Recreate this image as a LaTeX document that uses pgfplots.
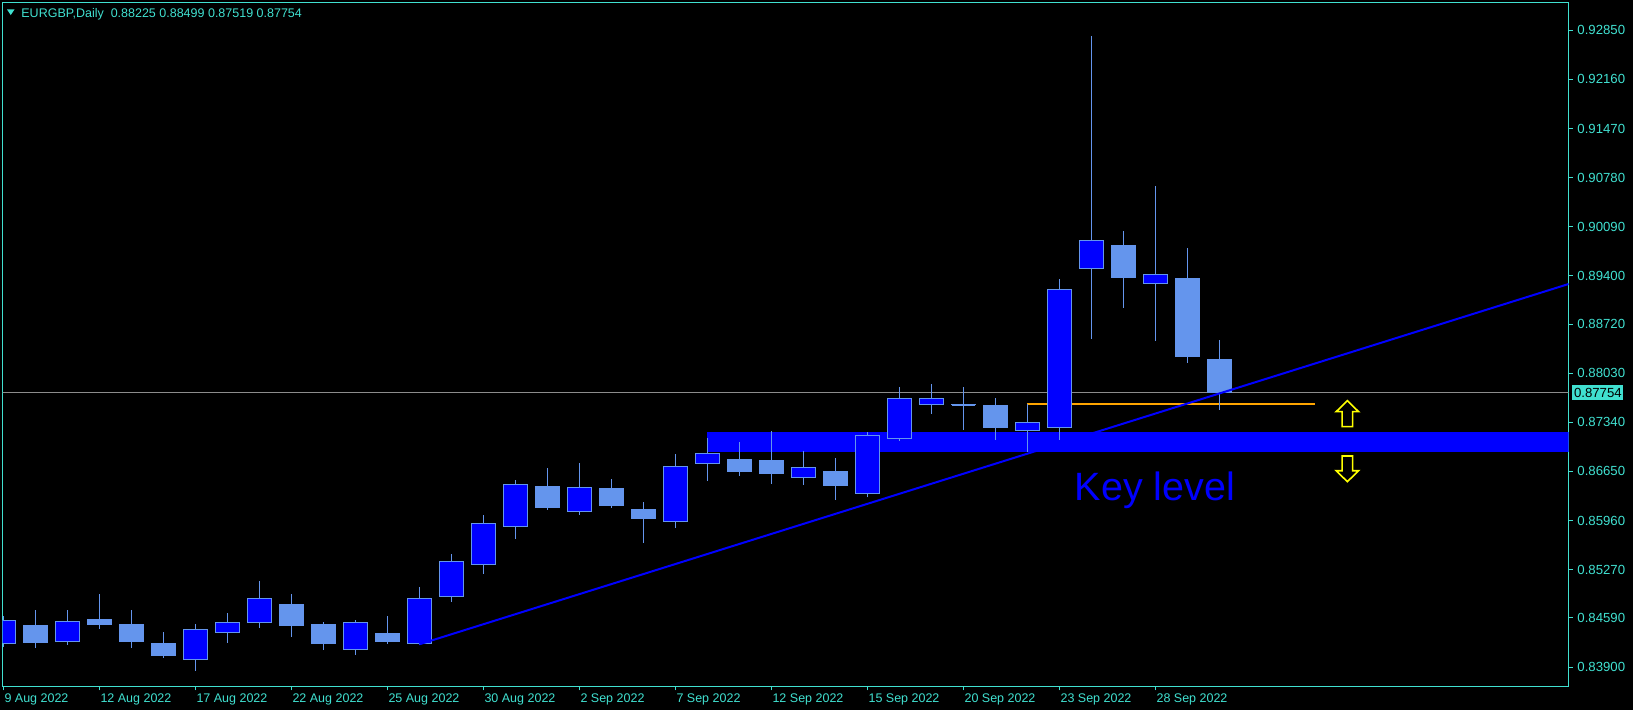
\documentclass[border=0pt]{standalone}
\usepackage{pgfplots}
\pgfplotsset{compat=1.18}
\usepackage{pgfplotstable}
\usepackage{fontspec}
\setmainfont{Liberation Sans}
\usetikzlibrary{backgrounds}

\definecolor{mtaxis}{RGB}{64,224,208}
\definecolor{bullfill}{RGB}{0,0,255}
\definecolor{candleln}{RGB}{100,149,237}
\definecolor{bidline}{RGB}{140,140,140}
\definecolor{lvlorange}{RGB}{255,165,0}
\definecolor{arrowyel}{RGB}{255,255,0}

% daily EURGBP candles, idx = trading day from 9 Aug 2022
\pgfplotstableread{
idx open high low close
0 0.84235 0.84618 0.84187 0.84558
2 0.84262 0.84703 0.84215 0.84543
6 0.84009 0.84506 0.83849 0.84431
7 0.84389 0.84660 0.84243 0.84529
8 0.84529 0.85110 0.84454 0.84867
11 0.84150 0.84557 0.84075 0.84529
13 0.84234 0.85026 0.84215 0.84867
14 0.84895 0.85490 0.84815 0.85387
15 0.85344 0.86038 0.85210 0.85921
16 0.85879 0.86530 0.85705 0.86469
18 0.86089 0.86769 0.86042 0.86427
21 0.85949 0.86895 0.85860 0.86722
22 0.86764 0.87120 0.86520 0.86905
25 0.86567 0.86937 0.86464 0.86708
27 0.86342 0.87204 0.86286 0.87157
28 0.87111 0.87837 0.87082 0.87678
29 0.87593 0.87879 0.87462 0.87678
32 0.87228 0.87602 0.86928 0.87340
33 0.87270 0.89350 0.87097 0.89210
34 0.89505 0.92770 0.88516 0.89898
36 0.89294 0.90662 0.88488 0.89420
}\bull

\pgfplotstableread{
idx open high low close
1 0.84478 0.84703 0.84173 0.84243
3 0.84562 0.84927 0.84440 0.84496
4 0.84492 0.84703 0.84173 0.84257
5 0.84225 0.84393 0.84033 0.84061
9 0.84773 0.84927 0.84328 0.84482
10 0.84492 0.84534 0.84145 0.84229
12 0.84379 0.84618 0.84229 0.84257
17 0.86445 0.86698 0.86113 0.86141
19 0.86417 0.86544 0.86141 0.86169
20 0.86108 0.86220 0.85649 0.85986
23 0.86820 0.87064 0.86590 0.86647
24 0.86806 0.87218 0.86478 0.86619
26 0.86656 0.86839 0.86253 0.86450
30 0.87590 0.87837 0.87237 0.87586
31 0.87570 0.87682 0.87097 0.87265
35 0.89819 0.90029 0.88952 0.89373
37 0.89355 0.89790 0.88179 0.88263
38 0.88225 0.88499 0.87519 0.87754
}\bear

% one wick + one body per row of the table
\newcommand{\drawcandles}[2]{%
  \pgfplotstablegetrowsof{#1}%
  \pgfmathtruncatemacro{\nrows}{\pgfplotsretval-1}%
  \pgfplotsinvokeforeach{0,...,\nrows}{%
    \pgfplotstablegetelem{##1}{idx}\of#1\let\ci\pgfplotsretval
    \pgfplotstablegetelem{##1}{open}\of#1\let\co\pgfplotsretval
    \pgfplotstablegetelem{##1}{high}\of#1\let\ch\pgfplotsretval
    \pgfplotstablegetelem{##1}{low}\of#1\let\cl\pgfplotsretval
    \pgfplotstablegetelem{##1}{close}\of#1\let\cc\pgfplotsretval
    \pgfmathsetmacro{\xl}{\ci-0.37}%
    \pgfmathsetmacro{\xr}{\ci+0.37}%
    \edef\temp{%
      \noexpand\addplot[candleln, line width=0.5pt, forget plot]
        coordinates {(\ci,\cl) (\ci,\ch)};
      \noexpand\addplot[draw=candleln, fill=#2, line width=0.5pt, forget plot]
        coordinates {(\xl,\co) (\xr,\co) (\xr,\cc) (\xl,\cc)} --cycle;
    }%
    \temp
  }%
}

\begin{document}
\begin{tikzpicture}
\begin{axis}[
  scale only axis,
  width=782.9pt, height=342pt,
  xmin=-0.019, xmax=48.91,
  ymin=0.8363, ymax=0.93244,
  axis line style={mtaxis, line width=0.5pt},
  tick style={mtaxis, line width=0.5pt},
  xtick pos=bottom, ytick pos=right, yticklabel pos=right,
  tick align=outside, major tick length=2pt,
  xtick={0,3,...,36},
  xticklabels={9 Aug 2022,12 Aug 2022,17 Aug 2022,22 Aug 2022,25 Aug 2022,30 Aug 2022,2 Sep 2022,7 Sep 2022,12 Sep 2022,15 Sep 2022,20 Sep 2022,23 Sep 2022,28 Sep 2022},
  ytick={0.839,0.8459,0.8527,0.8596,0.8665,0.8734,0.8803,0.8872,0.894,0.9009,0.9078,0.9147,0.9216,0.9285},
  yticklabels={0.83900,0.84590,0.85270,0.85960,0.86650,0.87340,0.88030,0.88720,0.89400,0.90090,0.90780,0.91470,0.92160,0.92850},
  ticklabel style={text=mtaxis},
  xticklabel style={font=\fontsize{6.25}{7}\selectfont, anchor=base west, inner sep=0pt, yshift=-6.1pt, xshift=0.4pt},
  yticklabel style={font=\fontsize{6.6}{7}\selectfont, anchor=west, inner sep=0pt, xshift=2.25pt},
  clip mode=individual,
]
\coordinate (sw) at (rel axis cs:0,0);
\coordinate (ne) at (rel axis cs:1,1);

% key level zone
\addplot[draw=none, fill=bullfill, forget plot] coordinates {(22,0.86923) (50,0.86923) (50,0.87204) (22,0.87204)} --cycle;
% bid line and the orange level
\addplot[bidline, line width=0.5pt] coordinates {(-1,0.87754) (50,0.87754)};
\addplot[lvlorange, line width=0.85pt] coordinates {(32,0.87602) (41,0.87602)};

\drawcandles{\bull}{bullfill}
\drawcandles{\bear}{candleln}

% trend line
\addplot[bullfill, line width=1pt] coordinates {(13,0.84220) (48.91,0.89284)};

% arrows
\addplot[arrowyel, line width=0.8pt] coordinates {
  (42.0,0.87644) (42.35,0.87490) (42.166,0.87490) (42.166,0.87279)
  (41.834,0.87279) (41.834,0.87490) (41.65,0.87490)} --cycle;
\addplot[arrowyel, line width=0.8pt] coordinates {
  (42.0,0.86506) (42.35,0.86660) (42.166,0.86660) (42.166,0.86867)
  (41.834,0.86867) (41.834,0.86660) (41.65,0.86660)} --cycle;

\node[anchor=base west, inner sep=0pt, text=bullfill, font=\fontsize{19.75}{22}\selectfont]
  at (axis cs:33.47,0.86239) {Key level};
\node[anchor=west, inner sep=0pt, fill=mtaxis, text=black, minimum height=7.5pt, minimum width=25.5pt,
  font=\fontsize{6.6}{7}\selectfont, xshift=1.75pt] at (axis cs:48.91,0.87754) {0.87754};
\end{axis}

\fill[mtaxis] ([shift={(2.15pt,-3.6pt)}]sw |- ne) -- ++(3.75pt,0) -- ++(-1.875pt,-2.8pt) -- cycle;
\node[anchor=base west, inner sep=0pt, text=mtaxis, font=\fontsize{6.25}{7}\selectfont]
  at ([shift={(9.15pt,-7.5pt)}]sw |- ne) {EURGBP,Daily\ \ 0.88225 0.88499 0.87519 0.87754};

\begin{pgfonlayer}{background}
\fill[black] ([shift={(-1.35pt,-11.85pt)}]sw) rectangle ([shift={(32.25pt,1.15pt)}]ne);
\end{pgfonlayer}
\pgfresetboundingbox
\path ([shift={(-1.35pt,-11.85pt)}]sw) rectangle ([shift={(32.25pt,1.15pt)}]ne);
\end{tikzpicture}
\end{document}
